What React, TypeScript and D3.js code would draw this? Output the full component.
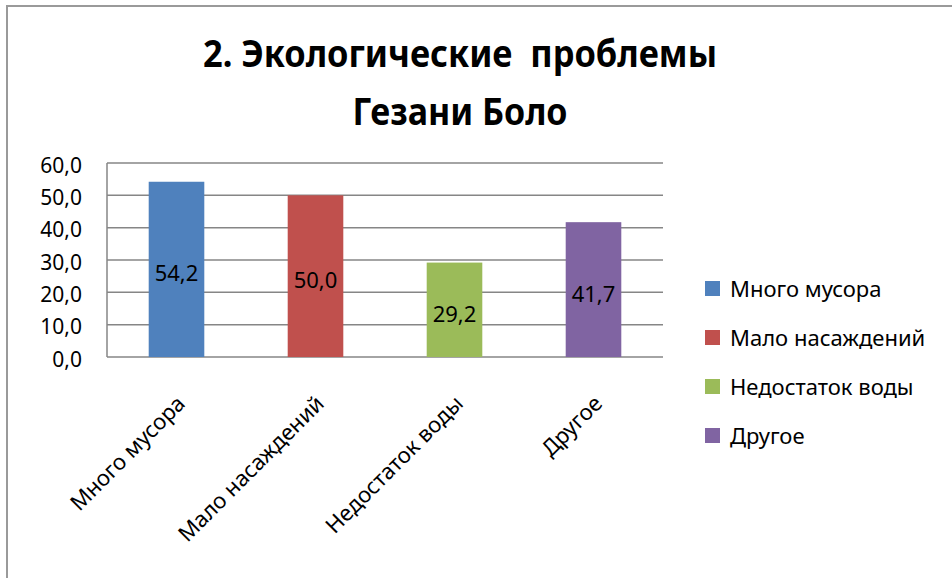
import React from 'react';
import * as d3 from 'd3';

const categories = ['Много мусора', 'Мало насаждений', 'Недостаток воды', 'Другое'];
const values = [54.2, 50.0, 29.2, 41.7];
const colors = ['#4F81BD', '#C0504D', '#9BBB59', '#8064A2'];
const yTicks = [0, 10, 20, 30, 40, 50, 60];
const titleLines = ['2. Экологические  проблемы', 'Гезани Боло'];

const W = 952;
const H = 578;
const FONT = "'Noto Sans', 'Open Sans', sans-serif";
const GRID = '#868686';

const fmt = (v: number) => d3.format('.1f')(v).replace('.', ',');

export default function App() {
  const plot = { left: 107, right: 663, top: 163, bottom: 357 };

  const x = d3.scaleBand<string>()
    .domain(categories)
    .range([plot.left, plot.right])
    .paddingInner(0.6)
    .paddingOuter(0.3);

  const y = d3.scaleLinear().domain([0, 60]).range([plot.bottom, plot.top]);

  const legendY = d3.scalePoint<string>()
    .domain(categories)
    .range([289, 436]);

  return (
    <div style={{ position: 'absolute', left: 0, top: 0 }}>
      <svg width={W} height={H} style={{ display: 'block', background: '#fff' }} fontFamily={FONT}>
        {/* chart area border, runs off the right and bottom edges */}
        <rect x={7} y={6} width={W + 20} height={H + 20} fill="#fff" stroke="#9a9a9a" strokeWidth={2} />

        {/* title */}
        <text x={460} y={67} textAnchor="middle" fontSize={38} fontWeight="bold" fill="#000"
          textLength={514} lengthAdjust="spacingAndGlyphs" style={{ whiteSpace: 'pre' }}>
          {titleLines[0]}
        </text>
        <text x={460} y={125} textAnchor="middle" fontSize={38} fontWeight="bold" fill="#000"
          textLength={215} lengthAdjust="spacingAndGlyphs">
          {titleLines[1]}
        </text>

        {/* gridlines */}
        {yTicks.map(t => (
          <line key={t} x1={plot.left} x2={plot.right} y1={y(t)} y2={y(t)} stroke={GRID} strokeWidth={1.5} />
        ))}
        <line x1={plot.left} x2={plot.left} y1={plot.top} y2={plot.bottom} stroke={GRID} strokeWidth={1.5} />

        {/* y tick labels */}
        {yTicks.map(t => (
          <text key={t} x={82} y={y(t) + 2} dy="0.36em" textAnchor="end" fontSize={21} fill="#000">
            {fmt(t)}
          </text>
        ))}

        {/* bars */}
        {categories.map((c, i) => (
          <rect key={c} x={x(c)!} y={y(values[i])} width={x.bandwidth()} height={plot.bottom - y(values[i])}
            fill={colors[i]} />
        ))}

        {/* value labels */}
        {categories.map((c, i) => (
          <text key={c} x={x(c)! + x.bandwidth() / 2} y={(y(values[i]) + plot.bottom) / 2 + 4} dy="0.36em"
            textAnchor="middle" fontSize={22} fill="#000">
            {fmt(values[i])}
          </text>
        ))}

        {/* x labels */}
        {categories.map(c => (
          <text key={c} textAnchor="end" fontSize={22} fill="#000"
            transform={`translate(${x(c)! + x.bandwidth() / 2 + 10},${plot.bottom + 48}) rotate(-45)`}>
            {c}
          </text>
        ))}

        {/* legend */}
        {categories.map((c, i) => (
          <g key={c} transform={`translate(705,${legendY(c)})`}>
            <rect x={0} y={-8} width={15} height={15} fill={colors[i]} />
            <text x={25} y={0} dy="0.36em" fontSize={22} fill="#000">{c}</text>
          </g>
        ))}
      </svg>
    </div>
  );
}
